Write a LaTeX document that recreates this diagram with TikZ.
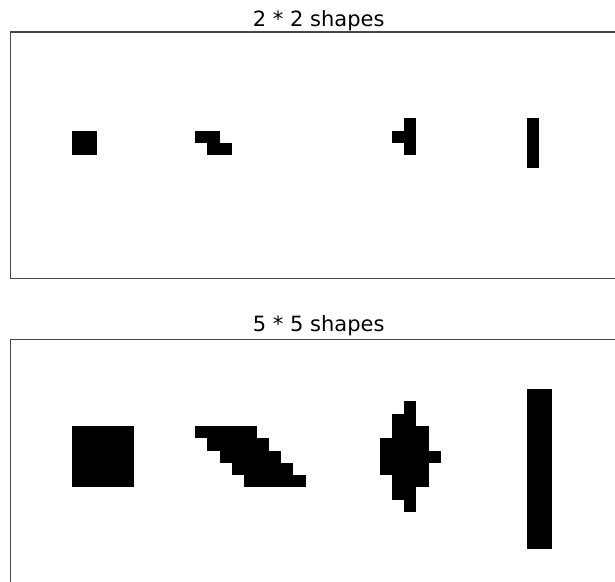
\documentclass[tikz,border=0pt]{standalone}
\usepackage{fontspec}
\setmainfont{DejaVu Sans}
\begin{document}
\begin{tikzpicture}[x=1pt,y=-1pt,
  frame/.style={draw=black!72,line width=1.1pt},
  cell/.style={fill=black},
  ttl/.style={anchor=base,inner sep=0pt,font=\fontsize{21}{25}\selectfont}]
\useasboundingbox (0,0) rectangle (615,581);
\clip (0,0) rectangle (615,581);
\fill[white] (0,0) rectangle (615,581);
% titles
\node[ttl] (t1) at (318.7,26.7) {2 * 2 shapes};
\node[ttl] (t2) at (318.7,331.7) {5 * 5 shapes};
% frames
\draw[frame] (10.3,32) rectangle (626,278.3);
\draw[frame] (10.3,339.7) rectangle (626,600);
% top panel shapes (grid origin x=72, y=118.3, cell 12.3)
\begin{scope}[shift={(72pt,-118.3pt)},x=12.3pt,y=-12.3pt]
  \fill[cell] (0,1) rectangle (2,3);
  \fill[cell] (10,1) rectangle (12,2);
  \fill[cell] (11,2) rectangle (13,3);
  \fill[cell] (27,0) rectangle (28,3);
  \fill[cell] (26,1) rectangle (27,2);
  \fill[cell] (37,0) rectangle (38,4);
\end{scope}
% bottom panel shapes (grid origin x=72, y=389)
\begin{scope}[shift={(72pt,-389pt)},x=12.3pt,y=-12.3pt]
  \fill[cell] (0,3) rectangle (5,8);
  \foreach \r in {0,...,4}{
    \fill[cell] ({10+\r},{3+\r}) rectangle ({15+\r},{4+\r});
  }
  % diamond-like shape, rows from y=1
  \fill[cell] (27,1) rectangle (28,2);
  \fill[cell] (26,2) rectangle (28,3);
  \fill[cell] (26,3) rectangle (29,4);
  \fill[cell] (25,4) rectangle (29,5);
  \fill[cell] (25,5) rectangle (30,6);
  \fill[cell] (25,6) rectangle (29,7);
  \fill[cell] (26,7) rectangle (29,8);
  \fill[cell] (26,8) rectangle (28,9);
  \fill[cell] (27,9) rectangle (28,10);
  \fill[cell] (37,0) rectangle (39,13);
\end{scope}
\end{tikzpicture}
\end{document}
